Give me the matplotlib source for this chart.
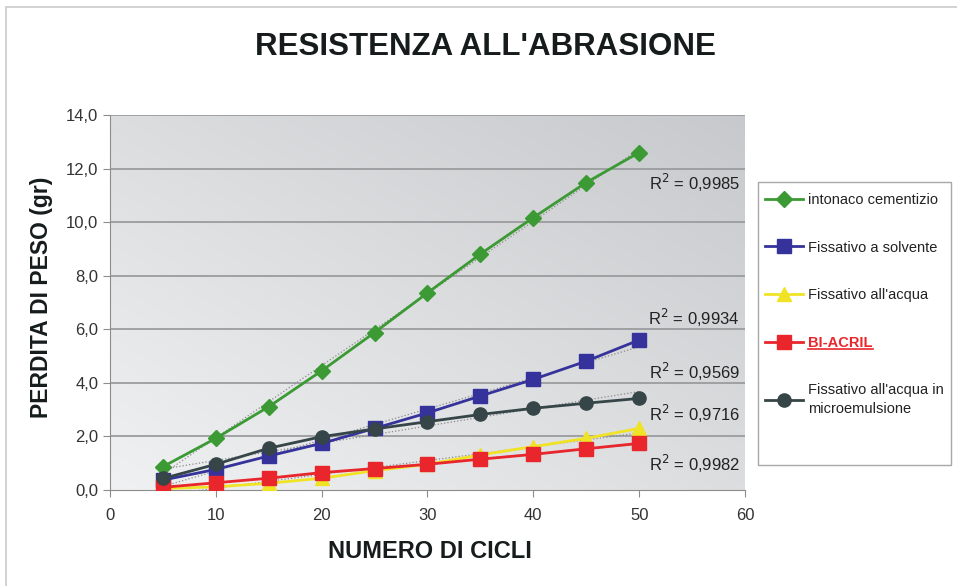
import numpy as np
import matplotlib
matplotlib.use("Agg")
import matplotlib.pyplot as plt
from matplotlib.patches import Rectangle
from matplotlib.lines import Line2D

plt.rcParams['font.family'] = ['Liberation Sans', 'DejaVu Sans']

cycles = [5, 10, 15, 20, 25, 30, 35, 40, 45, 50]
intonaco = [0.87, 1.93, 3.11, 4.45, 5.88, 7.36, 8.81, 10.17, 11.48, 12.60]
solvente = [0.37, 0.77, 1.27, 1.74, 2.30, 2.88, 3.51, 4.13, 4.81, 5.60]
acqua = [0.05, 0.12, 0.25, 0.44, 0.72, 0.96, 1.31, 1.62, 1.93, 2.30]
biacril = [0.10, 0.27, 0.44, 0.65, 0.80, 0.96, 1.15, 1.33, 1.54, 1.74]
microemul = [0.43, 0.96, 1.56, 1.99, 2.28, 2.55, 2.82, 3.05, 3.24, 3.42]

series_labels = ["intonaco cementizio", "Fissativo a solvente", "Fissativo all'acqua",
                 "BI-ACRIL", "Fissativo all'acqua in\nmicroemulsione"]
r2_labels = ["0,9985", "0,9934", "0,9569", "0,9716", "0,9982"]
r2_pos = [(59.5, 11.46), (59.5, 6.42), (59.5, 4.40), (59.5, 2.84), (59.5, 0.97)]

W, H = 957, 586
fig = plt.figure(figsize=(W / 100, H / 100), dpi=100)
fig.patches.append(Rectangle((6 / W, -0.2), 1.2, 1.2 - 7 / H, transform=fig.transFigure,
                             fill=False, edgecolor='#c8cbcd', lw=1.2, zorder=0))

ax = fig.add_axes([110 / W, 96 / H, 635 / W, 375 / H])
ax.set_xlim(0, 60)
ax.set_ylim(0, 14)

# gradient background
gx, gy = np.meshgrid(np.linspace(0, 1, 200), np.linspace(0, 1, 200))
g = 0.5 * gx + 0.5 * gy
c_light = np.array([0.94, 0.945, 0.95])
c_dark = np.array([0.78, 0.79, 0.80])
img = c_light[None, None, :] * (1 - g[..., None]) + c_dark[None, None, :] * g[..., None]
ax.imshow(img, extent=[0, 1, 0, 1], transform=ax.transAxes, origin='lower',
          aspect='auto', zorder=0, interpolation='bilinear')

for yv in np.arange(2, 14.01, 2):
    ax.axhline(yv, color='#9a9c9e', lw=1.3, zorder=1)

colors = ['#3b9a34', '#35339b', '#f0e326', '#e8262b', '#364547']
markers = ['D', 's', '^', 's', 'o']
msizes = [8, 9.5, 9.5, 9.5, 9.5]
data = [intonaco, solvente, acqua, biacril, microemul]
x = np.array(cycles)
handles = []
for d, c, m, ms, lab in zip(data, colors, markers, msizes, series_labels):
    d = np.array(d)
    k, b = np.polyfit(x, d, 1)
    ax.plot([x[0], x[-1]], [k * x[0] + b, k * x[-1] + b], ls=':', color='#8a8a8a',
            lw=0.9, zorder=2)
    h, = ax.plot(x, d, color=c, marker=m, ms=ms, lw=2, label=lab, zorder=3,
                 markeredgecolor=c)
    handles.append(h)

for lab, (px, py) in zip(r2_labels, r2_pos):
    ax.text(px, py, "R$^2$ = " + lab, ha='right', va='center', fontsize=12,
            color='#222222')

for s in ['top', 'right']:
    ax.spines[s].set_visible(False)
for s in ['left', 'bottom']:
    ax.spines[s].set_color('#8c8c8c')
ax.set_xticks(range(0, 61, 10))
ax.set_yticks(np.arange(0, 14.01, 2))
ax.set_yticklabels([f"{v:.1f}".replace('.', ',') for v in np.arange(0, 14.01, 2)])
ax.tick_params(colors='#8c8c8c', labelcolor='#333333', labelsize=12, length=5)
ax.tick_params(axis='x', pad=8)

fig.text(485 / W, 1 - 47 / H, "RESISTENZA ALL'ABRASIONE", ha='center', va='center',
         fontsize=22.5, fontweight='bold', color='#161c1c')
fig.text(42 / W, 1 - 297 / H, "PERDITA DI PESO (gr)", ha='center', va='center',
         rotation=90, fontsize=16.5, fontweight='bold', color='#161c1c')
fig.text(430 / W, 1 - 551 / H, "NUMERO DI CICLI", ha='center', va='center',
         fontsize=17, fontweight='bold', color='#161c1c')

# legend frame drawn separately
fig.patches.append(Rectangle((758 / W, 1 - 465 / H), (951 - 758) / W, (465 - 182) / H,
                             transform=fig.transFigure, facecolor='white',
                             edgecolor='#a8a8a8', lw=1.0, zorder=1))
leg = fig.legend(handles=handles, loc='upper left',
                 bbox_to_anchor=(765 / W, 1 - 193 / H), bbox_transform=fig.transFigure,
                 fontsize=10.5, frameon=False, handlelength=2.6,
                 handletextpad=0.35, labelspacing=2.3, borderpad=0,
                 borderaxespad=0)
leg.set_zorder(5)
for t in leg.get_texts():
    t.set_color('#222222')
leg.get_texts()[4].set_linespacing(1.45)
bt = leg.get_texts()[3]
bt.set_color('#e8262b')
bt.set_fontweight('bold')

fig.canvas.draw()
ext = bt.get_window_extent()
fig.lines.append(Line2D([ext.x0 / W, ext.x1 / W], [(ext.y0 + 1) / H, (ext.y0 + 1) / H],
                        transform=fig.transFigure, color='#e8262b', lw=1.2, zorder=6))

fig.savefig("out.png", dpi=100)
